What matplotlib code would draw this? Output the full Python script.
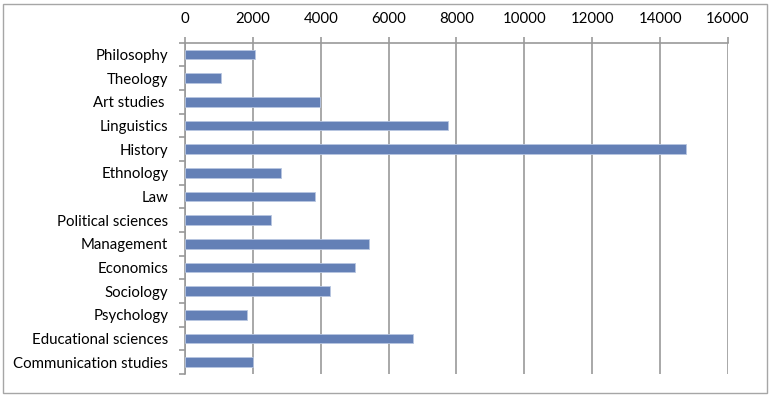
import matplotlib
matplotlib.use("Agg")
import matplotlib.pyplot as plt
from matplotlib.patches import Rectangle
import numpy as np

categories = ["Philosophy", "Theology", "Art studies ", "Linguistics", "History",
              "Ethnology", "Law", "Political sciences", "Management", "Economics",
              "Sociology", "Psychology", "Educational sciences", "Communication studies"]
values = [2050, 1075, 3970, 7760, 14770, 2840, 3830, 2540, 5410, 5000,
          4260, 1840, 6720, 1990]
xticks = [0, 2000, 4000, 6000, 8000, 10000, 12000, 14000, 16000]

plt.rcParams['font.family'] = ['Lato', 'DejaVu Sans']

W, H = 772, 396
fig = plt.figure(figsize=(W / 100, H / 100), dpi=100)
ax = fig.add_axes([185 / W, 1 - 374 / H, (728 - 185) / W, (374 - 42.7) / H])

grey = '#9a9a9a'
y = np.arange(len(categories))
ax.barh(y, values, height=0.4, color='#6480b6', edgecolor='#b8c6e0', linewidth=0.6, zorder=3)

ax.set_xlim(0, 16000)
ax.set_ylim(len(categories) - 0.5, -0.5)
ax.set_xticks(xticks)
ax.set_xticklabels([str(t) for t in xticks])
ax.xaxis.tick_top()
ax.grid(axis='x', color=grey, linewidth=1.2, zorder=0)
ax.set_axisbelow(True)

ax.set_yticks(y)
ax.set_yticklabels(categories)
ax.set_yticks(np.arange(-0.5, len(categories) + 0.5, 1), minor=True)
ax.tick_params(axis='y', which='major', length=0, pad=12, labelsize=10.8, colors='black')
ax.tick_params(axis='y', which='minor', length=4, width=1.2, color=grey)
ax.tick_params(axis='x', which='major', length=4, width=1.2, color=grey, pad=8, labelsize=10.8)

for s in ['right', 'bottom']:
    ax.spines[s].set_visible(False)
for s in ['top', 'left']:
    ax.spines[s].set_color(grey)
    ax.spines[s].set_linewidth(1.2)

fig.patches.append(Rectangle((2.5 / W, 3.5 / H), (766.5 - 2.5) / W, (392.5 - 3.5) / H,
                             transform=fig.transFigure, fill=False,
                             edgecolor='#a6a6a6', linewidth=1.0))

fig.savefig('out.png', dpi=100)
